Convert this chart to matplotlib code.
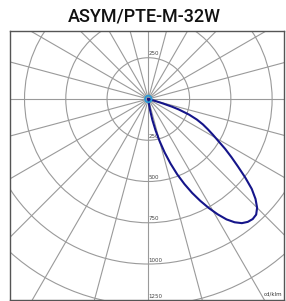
import numpy as np
import matplotlib
matplotlib.use("Agg")
import matplotlib.pyplot as plt
from matplotlib.patches import Circle

# intensity curve (gamma from nadir in degrees, cd/klm)
gamma = [0, 3, 6, 9, 11, 13, 15, 17, 19, 21, 23, 25, 27, 29, 31, 33, 35, 37,
         39, 41, 43, 45, 47, 49, 51, 53, 55, 57, 59, 61, 63, 65, 67, 69, 71,
         72, 73, 74, 75, 77]
intensity = [0, 4, 20, 70, 130, 195, 265, 340, 415, 490, 560, 628, 692, 755,
             815, 870, 912, 942, 958, 964, 958, 932, 888, 830, 755, 680, 615,
             555, 495, 448, 405, 365, 320, 265, 195, 150, 90, 40, 10, 0]

# the small second curve near the centre
c90_level = 20

ring_values = [250, 500, 750, 1000, 1250]
ring_labels = ["250", "500", "750", "1000", "1250"]
spoke_step = 15
title = "ASYM/PTE-M-32W"
unit = "cd/klm"

fig = plt.figure(figsize=(2.86, 3.01), dpi=100)
ax = fig.add_axes([10 / 286, 1 - 300 / 301, 274 / 286, 269 / 301])

grid_col = "#9a9a9a"
ymin, ymax = -1218, 412

# circles
for r in ring_values:
    ax.add_patch(Circle((0, 0), r, fill=False, ec=grid_col, lw=0.8, zorder=1))

# spokes every 15 deg
for a in range(0, 180, spoke_step):
    t = np.radians(a)
    L = 3000
    ax.plot([-L * np.sin(t), L * np.sin(t)], [L * np.cos(t), -L * np.cos(t)],
            color=grid_col, lw=0.8, zorder=1)

# ring labels (kept inside the frame)
for r, lab in zip(ring_values, ring_labels):
    y = max(-r + 8, ymin + 4)
    ax.text(2, y, lab, fontsize=4, color="#444444", ha="left", va="bottom", zorder=3)
ax.text(2, ring_values[0] + 8, ring_labels[0], fontsize=4, color="#444444",
        ha="left", va="bottom", zorder=3)

# curves
g = np.radians(gamma)
I = np.array(intensity)
ax.plot(I * np.sin(g), -I * np.cos(g), color="#15158a", lw=1.5, zorder=4,
        solid_joinstyle="round")
ax.add_patch(Circle((0, 0), c90_level, fill=False, ec="#2a9ad6", lw=1.3, zorder=5))

ax.text(0.995, 0.012, unit, transform=ax.transAxes, fontsize=4, color="#333333",
        ha="right", va="bottom")

ax.set_xlim(-838, 822)
ax.set_ylim(ymin, ymax)
ax.set_xticks([])
ax.set_yticks([])
for s in ax.spines.values():
    s.set_color("#555555")
    s.set_linewidth(1.0)

fig.text(0.505, 0.945, title, fontsize=13, fontfamily="Roboto", fontweight="medium",
         ha="center", va="center", color="#111111")

fig.savefig("out.png", dpi=100)
